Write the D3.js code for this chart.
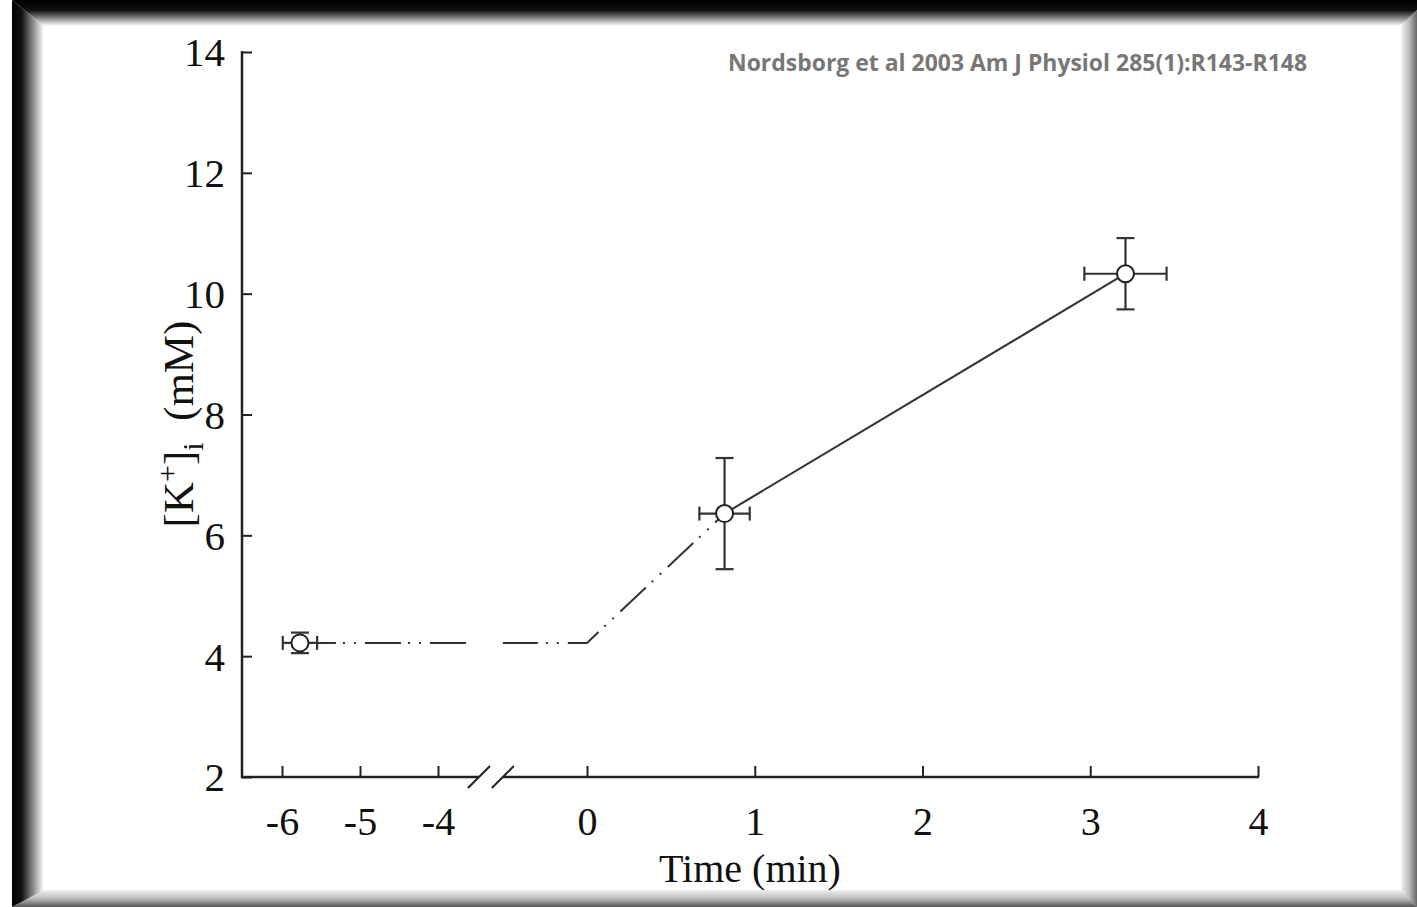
<!DOCTYPE html>
<html>
<head>
<meta charset="utf-8">
<script src="https://cdn.jsdelivr.net/npm/d3@7"></script>
<style>
  html, body { margin: 0; padding: 0; background: #fff; }
  svg { display: block; }
</style>
</head>
<body>
<svg id="chart" width="1417" height="907"></svg>
<script>
// Intracellular K+ over time: baseline, ~1 min, ~3 min
const timeMin   = [-5.77, 0.82, 3.21];
const kConc     = [4.22, 6.36, 10.33];
const timeErr   = [0.22, 0.15, 0.245];
const kErr      = [0.17, 0.92, 0.59];
const xTicks    = [-6, -5, -4, 0, 1, 2, 3, 4];
const yTicks    = [2, 4, 6, 8, 10, 12, 14];
const onsetTime = 0;              // exercise onset, where the dashed ramp starts
const axisBreak = [-2.9, -2.26];  // broken x-axis between -4 and 0
const citation  = "Nordsborg et al 2003 Am J Physiol 285(1):R143-R148";

const svg = d3.select("#chart");
const W = 1417, H = 907;

// ---- frame ----
const defs = svg.append("defs");
function grad(id, x1, y1, x2, y2, stops) {
  const g = defs.append("linearGradient").attr("id", id)
    .attr("x1", x1).attr("y1", y1).attr("x2", x2).attr("y2", y2);
  stops.forEach(s => g.append("stop").attr("offset", s[0]).attr("stop-color", s[1]));
}
grad("gLeft", 0, 0, 1, 0, [[0, "#000"], [0.3, "#111"], [0.6, "#777"], [1, "#fff"]]);
grad("gTop", 0, 0, 0, 1, [[0, "#000"], [0.4, "#111"], [0.7, "#888"], [1, "#fff"]]);
grad("gRight", 0, 0, 1, 0, [[0, "#f2f2f2"], [0.5, "#bbb"], [1, "#666"]]);
grad("gBottom", 0, 0, 0, 1, [[0, "#f2f2f2"], [0.5, "#bbb"], [1, "#555"]]);

svg.append("rect").attr("width", W).attr("height", H).attr("fill", "#fff");
const frame = svg.append("g");
frame.append("polygon").attr("points", `${W-16},26 ${W},10 ${W},${H} ${W-16},${H-16}`).attr("fill", "url(#gRight)");
frame.append("polygon").attr("points", `12,${H} 44,${H-17} ${W-16},${H-17} ${W},${H}`).attr("fill", "url(#gBottom)");
frame.append("polygon").attr("points", `12,0 44,26 44,${H-17} 12,${H}`).attr("fill", "url(#gLeft)");
frame.append("polygon").attr("points", `12,0 ${W},0 ${W},10 ${W-16},26 44,26`).attr("fill", "url(#gTop)");

// ---- scales (x axis is broken: -6..-4 and 0..4) ----
const x = d3.scaleLinear().domain([-6, -4, 0, 4]).range([282, 438, 587, 1258]);
const y = d3.scaleLinear().domain([2, 14]).range([777, 52]);
const axisLeftX = 242;
const ink = "#222";
const serif = "'Liberation Serif', 'Times New Roman', serif";

// ---- axes ----
const gx = svg.append("g").attr("transform", `translate(0,${y(2)})`)
  .call(d3.axisBottom(x).tickValues(xTicks).tickSizeInner(-11).tickSizeOuter(0).tickPadding(30)
    .tickFormat(d3.format("d")));
gx.select(".domain").remove();
gx.selectAll(".tick line").attr("stroke", ink).attr("stroke-width", 2);
gx.selectAll(".tick text").attr("font-family", serif).attr("font-size", 40).attr("fill", "#111")
  .text(d => d < 0 ? "-" + Math.abs(d) : d);

const gy = svg.append("g").attr("transform", `translate(${axisLeftX},0)`)
  .call(d3.axisLeft(y).tickValues(yTicks).tickSizeInner(-10).tickSizeOuter(0).tickPadding(17));
gy.select(".domain").remove();
gy.selectAll(".tick line").attr("stroke", ink).attr("stroke-width", 2);
gy.selectAll(".tick text").attr("font-family", serif).attr("font-size", 41).attr("fill", "#111")
  .attr("dy", "0.34em");

// axis lines, with the break drawn as two slashes
const axes = svg.append("g").attr("stroke", ink).attr("stroke-width", 2.5).attr("fill", "none");
axes.append("line").attr("x1", axisLeftX).attr("x2", axisLeftX).attr("y1", y(14) - 1).attr("y2", y(2) + 1.25);
axes.append("line").attr("x1", axisLeftX).attr("x2", x(axisBreak[0])).attr("y1", y(2)).attr("y2", y(2));
axes.append("line").attr("x1", x(axisBreak[1])).attr("x2", x(4) + 1).attr("y1", y(2)).attr("y2", y(2));
axisBreak.forEach(b => {
  axes.append("line").attr("stroke-width", 2)
    .attr("x1", x(b) - 11).attr("y1", y(2) + 11).attr("x2", x(b) + 11).attr("y2", y(2) - 11);
});

// ---- axis titles ----
svg.append("text").attr("x", 750).attr("y", 882).attr("text-anchor", "middle")
  .attr("font-family", serif).attr("font-size", 40).attr("fill", "#111").text("Time (min)");

const yl = svg.append("text").attr("transform", "translate(193,424) rotate(-90)")
  .attr("text-anchor", "middle").attr("font-family", serif).attr("font-size", 43).attr("fill", "#111");
yl.append("tspan").text("[K");
yl.append("tspan").attr("font-size", 30).attr("dy", -16).text("+");
yl.append("tspan").attr("dy", 16).text("]");
yl.append("tspan").attr("font-size", 30).attr("dy", 10).text("i");
yl.append("tspan").attr("dy", -10).text("\u00a0\u00a0(mM)");

// ---- citation ----
svg.append("text").attr("x", 728).attr("y", 71)
  .attr("font-family", "'Open Sans', 'Liberation Sans', sans-serif").attr("font-weight", "bold")
  .attr("font-size", 24).attr("fill", "#777")
  .attr("textLength", 579).attr("lengthAdjust", "spacingAndGlyphs").text(citation);

// ---- connecting lines ----
const pts = timeMin.map((t, i) => ({ t, k: kConc[i], te: timeErr[i], ke: kErr[i] }));
const line = d3.line().x(d => x(d.t)).y(d => y(d.k));
const lineStyle = sel => sel.attr("fill", "none").attr("stroke", "#333").attr("stroke-width", 2);

// baseline plateau, interrupted at the axis break
const gapL = x.invert(x(axisBreak[0]) - 7), gapR = axisBreak[1];
svg.append("path").datum([pts[0], { t: gapL, k: pts[0].k }])
  .attr("d", line).call(lineStyle).attr("stroke-dasharray", "36,7,2,9,2,9");
svg.append("path").datum([{ t: gapR, k: pts[0].k }, { t: onsetTime, k: pts[0].k }, pts[1]])
  .attr("d", line).call(lineStyle).attr("stroke-dasharray", "35,8,2,9,2,9");
// measured rise
svg.append("path").datum([pts[1], pts[2]]).attr("d", line).call(lineStyle);

// ---- error bars and markers ----
const eb = svg.append("g").attr("stroke", "#333").attr("stroke-width", 2.2).attr("fill", "none");
pts.forEach(d => {
  const cx = x(d.t), cy = y(d.k);
  const xl = x(d.t - d.te), xr = x(d.t + d.te);
  const yt = y(d.k + d.ke), yb = y(d.k - d.ke);
  eb.append("line").attr("x1", xl).attr("x2", xr).attr("y1", cy).attr("y2", cy);
  eb.append("line").attr("x1", xl).attr("x2", xl).attr("y1", cy - 7).attr("y2", cy + 7);
  eb.append("line").attr("x1", xr).attr("x2", xr).attr("y1", cy - 7).attr("y2", cy + 7);
  eb.append("line").attr("x1", cx).attr("x2", cx).attr("y1", yt).attr("y2", yb);
  eb.append("line").attr("x1", cx - 9).attr("x2", cx + 9).attr("y1", yt).attr("y2", yt);
  eb.append("line").attr("x1", cx - 9).attr("x2", cx + 9).attr("y1", yb).attr("y2", yb);
});
svg.append("g").selectAll("circle").data(pts).join("circle")
  .attr("cx", d => x(d.t)).attr("cy", d => y(d.k)).attr("r", 8.5)
  .attr("fill", "#fff").attr("stroke", "#222").attr("stroke-width", 2);
</script>
</body>
</html>
